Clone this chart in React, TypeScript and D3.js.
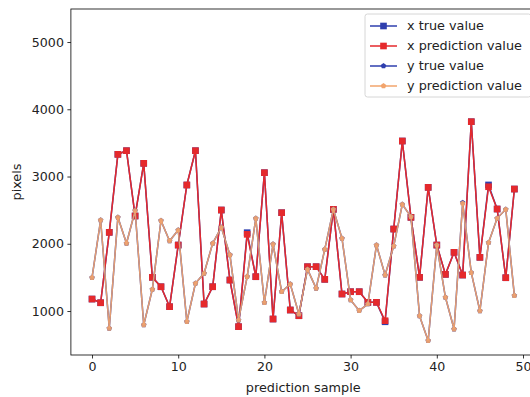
import React, { useEffect, useRef } from 'react';
import * as d3 from 'd3';

// sample index 0..49
const samples: number[] = d3.range(50);

const xTrue: number[] = [1178, 1123, 2170, 3330, 3384, 2413, 3196, 1501, 1361, 1064,
    1981, 2874, 3384, 1104, 1361, 2502, 1461, 767, 2165, 1510,
    3057, 881, 2462, 1015, 930, 1659, 1659, 1471, 2512, 1253,
    1287, 1287, 1129, 1129, 840, 2219, 3528, 2393, 1501, 2839,
    1981, 1545, 1873, 1535, 3815, 1798, 2875, 2517, 1495, 2814];

const xPred: number[] = [1178, 1123, 2170, 3330, 3384, 2413, 3196, 1501, 1361, 1064,
    1981, 2874, 3384, 1104, 1361, 2502, 1461, 767, 2140, 1510,
    3057, 881, 2462, 1015, 930, 1659, 1659, 1471, 2512, 1253,
    1287, 1287, 1129, 1129, 856, 2219, 3528, 2393, 1501, 2839,
    1981, 1545, 1873, 1535, 3815, 1798, 2848, 2517, 1495, 2814];

const yTrue: number[] = [1495, 2353, 743, 2393, 2007, 2491, 792, 1323, 2343, 2041,
    2204, 841, 1412, 1561, 2007, 2244, 1833, 866, 1510, 2378,
    1123, 1996, 1287, 1401, 955, 1620, 1338, 1917, 2512, 2081,
    1164, 1005, 1104, 1981, 1535, 1966, 2587, 2402, 926, 558,
    1981, 1204, 732, 2610, 1570, 1000, 2016, 2378, 2512, 1228];

const yPred: number[] = [1495, 2353, 743, 2393, 2007, 2491, 792, 1323, 2343, 2041,
    2204, 841, 1412, 1561, 2007, 2244, 1833, 866, 1510, 2378,
    1123, 1996, 1287, 1401, 955, 1620, 1338, 1917, 2512, 2081,
    1164, 1005, 1104, 1981, 1535, 1966, 2587, 2402, 926, 558,
    1981, 1204, 732, 2602, 1570, 1000, 2016, 2378, 2512, 1228];

const xTicks: number[] = [0, 10, 20, 30, 40, 50];
const yTicks: number[] = [1000, 2000, 3000, 4000, 5000];

const BLUE = '#2f3fae';
const RED = '#e5292c';
const ORANGE = '#f2a46c';

// small pentagon marker, d3 has none built in
const pentagon = {
    draw(ctx: any, size: number) {
        const r = Math.sqrt(size / 2.3776);
        for (let k = 0; k < 5; k++) {
            const a = -Math.PI / 2 + k * 2 * Math.PI / 5;
            const px = r * Math.cos(a), py = r * Math.sin(a);
            if (k === 0) ctx.moveTo(px, py); else ctx.lineTo(px, py);
        }
        ctx.closePath();
    }
};

export default function App() {
    const ref = useRef<SVGSVGElement>(null);

    useEffect(() => {
        const left = 70.9, right = 535.5, top = 9, bottom = 355;
        const font = 'DejaVu Sans, sans-serif';

        const svg = d3.select(ref.current);
        svg.selectAll('*').remove();

        const x = d3.scaleLinear().domain([-2.45, 51.45]).range([left, right]);
        const y = d3.scaleLinear().domain([346, 5491]).range([bottom, top]);

        // axes
        const gx = svg.append('g').attr('transform', `translate(0,${bottom})`)
            .call(d3.axisBottom(x).tickValues(xTicks).tickFormat(d3.format('d')).tickSize(3.5).tickPadding(3.5));
        const gy = svg.append('g').attr('transform', `translate(${left},0)`)
            .call(d3.axisLeft(y).tickValues(yTicks).tickFormat(d3.format('d')).tickSize(3.5).tickPadding(3.5));
        [gx, gy].forEach(g => {
            g.select('.domain').remove();
            g.selectAll('line').attr('stroke', '#000').attr('stroke-width', 0.8);
            g.selectAll('text').attr('font-family', font).attr('font-size', 12.6).attr('fill', '#222');
        });

        // frame
        svg.append('rect')
            .attr('x', left).attr('y', top)
            .attr('width', right - left).attr('height', bottom - top)
            .attr('fill', 'none').attr('stroke', '#000').attr('stroke-width', 0.8);

        const plot = svg.append('g');
        const series = [
            { name: 'x true value', data: xTrue, color: BLUE, sym: d3.symbolSquare, size: 44, op: 1 },
            { name: 'x prediction value', data: xPred, color: RED, sym: d3.symbolSquare, size: 44, op: 1 },
            { name: 'y true value', data: yTrue, color: BLUE, sym: pentagon, size: 20, op: 1 },
            { name: 'y prediction value', data: yPred, color: ORANGE, sym: pentagon, size: 20, op: 0.92 },
        ];

        const line = d3.line<number>().x((d, i) => x(samples[i])).y(d => y(d));

        series.forEach(s => {
            plot.append('path')
                .attr('d', line(s.data))
                .attr('fill', 'none')
                .attr('stroke', s.color)
                .attr('stroke-width', 1.5)
                .attr('opacity', s.op);
            plot.selectAll(null)
                .data(s.data)
                .enter()
                .append('path')
                .attr('transform', (d, i) => `translate(${x(samples[i])},${y(d)})`)
                .attr('d', d3.symbol().type(s.sym as any).size(s.size)())
                .attr('fill', s.color)
                .attr('opacity', s.op);
        });

        // legend
        const lg = svg.append('g').attr('transform', 'translate(365,14)');
        lg.append('rect')
            .attr('width', 166).attr('height', 83).attr('rx', 2.5)
            .attr('fill', '#fff').attr('fill-opacity', 0.8)
            .attr('stroke', '#ccc').attr('stroke-width', 0.8);
        series.forEach((s, i) => {
            const row = lg.append('g').attr('transform', `translate(0,${12 + i * 20})`);
            row.append('line').attr('x1', 5).attr('x2', 32)
                .attr('stroke', s.color).attr('stroke-width', 1.5);
            row.append('path').attr('transform', 'translate(18.5,0)')
                .attr('d', d3.symbol().type(s.sym as any).size(s.size)())
                .attr('fill', s.color);
            row.append('text').attr('x', 42).attr('dy', '0.35em')
                .attr('font-family', font).attr('font-size', 12.8).attr('fill', '#222')
                .text(s.name);
        });

        // axis titles
        svg.append('text')
            .attr('x', (left + right) / 2).attr('y', 392)
            .attr('text-anchor', 'middle')
            .attr('font-family', font).attr('font-size', 12.8).attr('fill', '#222')
            .text('prediction sample');
        svg.append('text')
            .attr('transform', `translate(21,${(top + bottom) / 2}) rotate(-90)`)
            .attr('text-anchor', 'middle')
            .attr('font-family', font).attr('font-size', 12.8).attr('fill', '#222')
            .text('pixels');
    }, []);

    return <svg ref={ref} width={530} height={397}
        style={{ position: 'fixed', left: 0, top: 0, background: '#fff' }} />;
}
